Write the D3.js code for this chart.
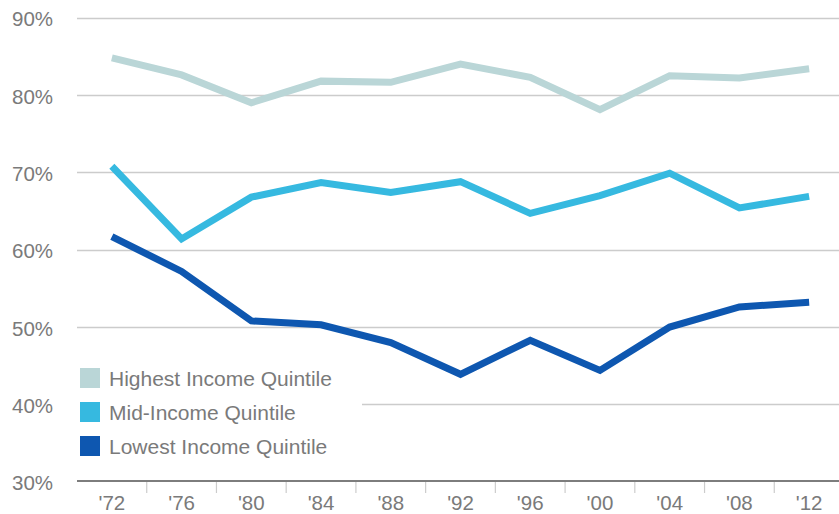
<!DOCTYPE html>
<html><head><meta charset="utf-8">
<script src="https://cdn.jsdelivr.net/npm/d3@7"></script>
<style>
html,body{margin:0;padding:0;background:#fff;}
svg{display:block;font-family:"Liberation Sans",Arial,Helvetica,sans-serif;}
</style></head>
<body>
<svg id="chart" width="839" height="514"></svg>
<script>
const years = ["'72","'76","'80","'84","'88","'92","'96","'00","'04","'08","'12"];
const highest = [84.8, 82.6, 79.0, 81.8, 81.65, 84.0, 82.3, 78.1, 82.5, 82.2, 83.4];
const mid     = [70.8, 61.4, 66.8, 68.7, 67.4, 68.8, 64.7, 67.0, 69.9, 65.4, 66.9];
const lowest  = [61.7, 57.2, 50.8, 50.3, 48.0, 43.9, 48.3, 44.4, 50.0, 52.6, 53.2];
const yTicks = [30, 40, 50, 60, 70, 80, 90];
const seriesNames = ["Highest Income Quintile", "Mid-Income Quintile", "Lowest Income Quintile"];
const seriesColors = ["#bad6d7", "#36b9e0", "#0e57b0"];

const svg = d3.select("#chart");
const x = d3.scaleBand().domain(years).range([77, 844]).padding(0);
const y = d3.scaleLinear().domain([30, 90]).range([481.8, 17.7]);

// gridlines
svg.append("g").selectAll("line").data(yTicks.filter(d => d > 30)).join("line")
  .attr("x1", 77).attr("x2", 839)
  .attr("y1", d => Math.round(y(d)) + 0.5).attr("y2", d => Math.round(y(d)) + 0.5)
  .attr("stroke", "#cccccc").attr("stroke-width", 1.5);

// y labels
svg.append("g").selectAll("text").data(yTicks).join("text")
  .attr("x", 12).attr("y", d => y(d) + 8.5)
  .attr("font-size", 20.5).attr("fill", "#7a7a7a")
  .text(d => d + "%");

// x axis
const xAxis = d3.axisBottom(x).tickSize(0).tickPadding(0);
const gx = svg.append("g").attr("transform", "translate(0,481)").call(xAxis);
gx.select(".domain").remove();
gx.selectAll("text").attr("font-size", 20.5).attr("fill", "#7a7a7a").attr("dy", 0).attr("y", 29)
  .attr("font-family", "Liberation Sans, Arial, sans-serif");
// band boundary ticks
svg.append("g").selectAll("line").data(years.slice(1)).join("line")
  .attr("x1", d => x(d)).attr("x2", d => x(d))
  .attr("y1", 481).attr("y2", 493)
  .attr("stroke", "#cccccc").attr("stroke-width", 1.2);
svg.append("line").attr("x1", 77).attr("x2", 839).attr("y1", 481).attr("y2", 481)
  .attr("stroke", "#7d7d7d").attr("stroke-width", 2.2);

// lines
const line = d3.line().x((d, i) => x(years[i]) + x.bandwidth() / 2).y(d => y(d));
[highest, mid, lowest].forEach((s, i) => {
  svg.append("path").datum(s).attr("d", line)
    .attr("fill", "none").attr("stroke", seriesColors[i]).attr("stroke-width", 7)
    .attr("stroke-linejoin", "miter").attr("stroke-linecap", "butt");
});

// legend with white background
svg.append("rect").attr("x", 70).attr("y", 358).attr("width", 292).attr("height", 104).attr("fill", "#fff");
const lg = svg.append("g").selectAll("g").data(seriesNames).join("g")
  .attr("transform", (d, i) => `translate(80,${368 + i * 34})`);
lg.append("rect").attr("width", 20).attr("height", 20).attr("fill", (d, i) => seriesColors[i]);
lg.append("text").attr("x", 29).attr("y", 18).attr("font-size", 21).attr("fill", "#7a7a7a").text(d => d);
</script>
</body></html>
